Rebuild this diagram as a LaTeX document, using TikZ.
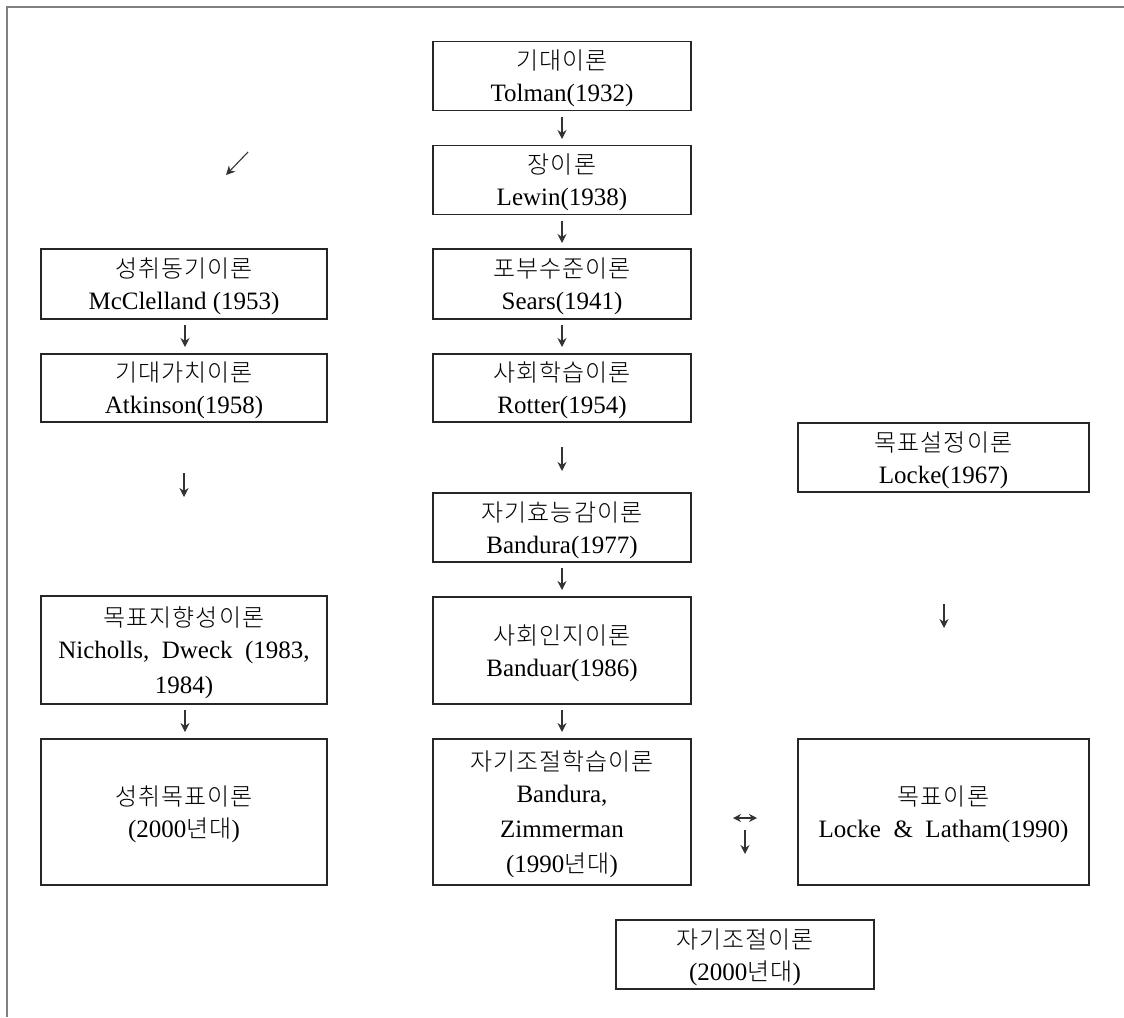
\documentclass[tikz,border=0pt]{standalone}
\usepackage{fontspec}
\setmainfont{Liberation Serif}
\newfontfamily\kr[LetterSpace=4]{Noto Sans CJK KR Light}
\usetikzlibrary{arrows.meta}
\newcommand\ko[1]{{\kr\fontsize{24}{35}\selectfont #1}}
\newcommand\kt[1]{\raisebox{-3pt}[22pt][0pt]{\ko{#1}}}
\begin{document}
\begin{tikzpicture}[x=1pt,y=-1pt,
  box/.style={draw=black!85, line width=1.2pt, minimum width=258pt, minimum height=69pt,
    inner sep=0pt, align=center, font=\fontsize{25}{35}\selectfont},
  wbox/.style={box, minimum width=286pt},
  rbox/.style={box, minimum width=291pt},
  arr/.style={draw=black!80, line width=1.1pt, -{Stealth[length=9pt,width=9pt]}},
  darr/.style={draw=black!80, line width=1.1pt, {Stealth[length=8pt,width=8pt]}-{Stealth[length=8pt,width=8pt]}},
  frame/.style={draw=black!50, line width=2pt}]
\useasboundingbox (0,0) rectangle (1124,1017);
\draw[frame] (7,1017) -- (7,7) -- (1124,7);

% centre column
\node[box] (t1) at (562,76) {\kt{기대이론}\\Tolman(1932)};
\node[box] (t2) at (562,180) {\kt{장이론}\\Lewin(1938)};
\node[box, minimum height=70pt] (t3) at (562,284) {\kt{포부수준이론}\\Sears(1941)};
\node[box, minimum height=68pt] (t4) at (562,388) {\kt{사회학습이론}\\Rotter(1954)};
\node[box] (t5) at (562,527.5) {\kt{자기효능감이론}\\Bandura(1977)};
\node[box, minimum height=107pt] (t6) at (562,650.5) {\kt{사회인지이론}\\Banduar(1986)};
\node[box, minimum height=146pt] (t7) at (562,812) {\kt{자기조절학습이론}\\Bandura,\\Zimmerman\\(1990\ko{년대})};

% left column
\node[wbox, minimum height=70pt] (l1) at (184,284) {\kt{성취동기이론}\\McClelland (1953)};
\node[wbox, minimum height=68pt] (l2) at (184,388) {\kt{기대가치이론}\\Atkinson(1958)};
\node[wbox, minimum height=108pt] (l3) at (184,650) {\kt{목표지향성이론}\\Nicholls, \ Dweck \ (1983,\\1984)};
\node[wbox, minimum height=146pt] (l4) at (184,812) {\kt{성취목표이론}\\(2000\ko{년대})};

% right column
\node[rbox] (r1) at (943.5,457.5) {\kt{목표설정이론}\\Locke(1967)};
\node[rbox, minimum height=146pt] (r2) at (943.5,812) {\kt{목표이론}\\Locke \ \& \ Latham(1990)};

% bottom
\node[box] (b1) at (745,954.5) {\kt{자기조절이론}\\(2000\ko{년대})};

% free-standing arrows
\coordinate (a1s) at (562,117); \coordinate (a1e) at (562,139);
\coordinate (a2s) at (562,221); \coordinate (a2e) at (562,243);
\coordinate (a3s) at (562,325); \coordinate (a3e) at (562,347);
\coordinate (a4s) at (562,447); \coordinate (a4e) at (562,471);
\coordinate (a5s) at (562,568); \coordinate (a5e) at (562,590);
\coordinate (a6s) at (562,710); \coordinate (a6e) at (562,732);
\coordinate (b0s) at (248,152); \coordinate (b0e) at (226,175);
\coordinate (b1s) at (185,325); \coordinate (b1e) at (185,347);
\coordinate (b2s) at (184,473); \coordinate (b2e) at (184,497);
\coordinate (b3s) at (185,710); \coordinate (b3e) at (185,732);
\coordinate (c1s) at (944,604); \coordinate (c1e) at (944,628);
\coordinate (d1s) at (733,818); \coordinate (d1e) at (757,818);
\coordinate (d2s) at (745,830); \coordinate (d2e) at (745,854);
\foreach \a in {a1,a2,a3,a4,a5,a6,b0,b1,b2,b3,c1,d2}
  \draw[arr] (\a s) -- (\a e);
\draw[darr] (d1s) -- (d1e);
\end{tikzpicture}
\end{document}
